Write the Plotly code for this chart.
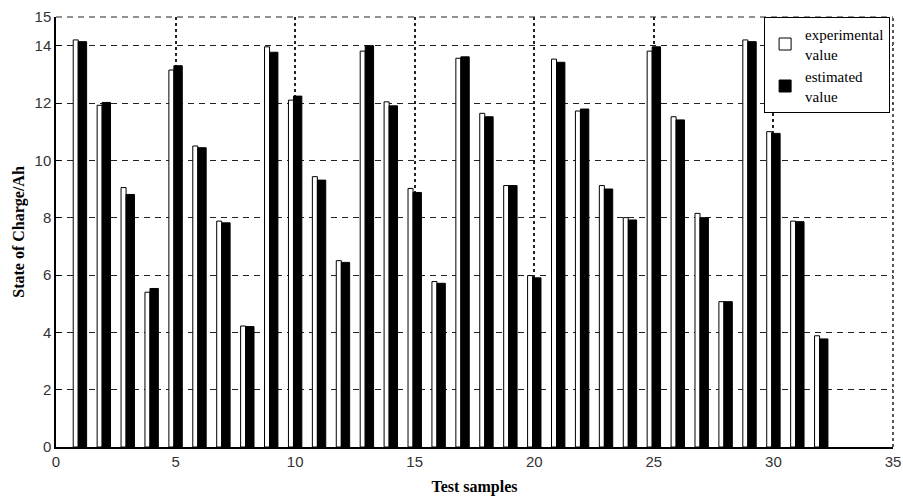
import plotly.graph_objects as go

samples = list(range(1, 33))
experimental = [14.2, 11.92, 9.05, 5.4, 13.15, 10.5, 7.88, 4.22, 13.96, 12.1,
                9.43, 6.5, 13.81, 12.04, 9.02, 5.77, 13.56, 11.64, 9.12, 5.98,
                13.53, 11.72, 9.12, 8.0, 13.81, 11.52, 8.15, 5.07, 14.2, 11.0,
                7.88, 3.88]
estimated = [14.14, 12.02, 8.81, 5.53, 13.3, 10.44, 7.82, 4.2, 13.77, 12.24,
             9.31, 6.44, 14.0, 11.9, 8.88, 5.71, 13.61, 11.52, 9.12, 5.9,
             13.42, 11.79, 9.0, 7.92, 13.96, 11.41, 8.0, 5.07, 14.14, 10.94,
             7.86, 3.77]
x_ticks = [0, 5, 10, 15, 20, 25, 30, 35]
y_ticks = [0, 2, 4, 6, 8, 10, 12, 14, 15]

GRID = "#222"
fig = go.Figure()
fig.add_trace(go.Bar(
    x=samples, y=experimental, name="experimental<br>value",
    width=0.21, offset=-0.28,
    marker=dict(color="white", line=dict(color="black", width=1)),
))
fig.add_trace(go.Bar(
    x=samples, y=estimated, name="estimated<br>value",
    width=0.35, offset=-0.07,
    marker=dict(color="black", line=dict(color="black", width=1)),
))

# edge grid lines (top dashed, right dotted) which plotly omits at the range boundary
fig.add_shape(type="line", xref="paper", yref="paper", x0=0, x1=1, y0=1, y1=1,
              line=dict(color=GRID, width=1.2, dash="6px,5px"), layer="below")
fig.add_shape(type="line", xref="paper", yref="paper", x0=1, x1=1, y0=0, y1=1,
              line=dict(color=GRID, width=1.5, dash="3px,3px"), layer="below")

fig.update_layout(
    width=903, height=499,
    margin=dict(l=56, r=10, t=17, b=52),
    paper_bgcolor="white", plot_bgcolor="white",
    barmode="overlay",
    showlegend=True,
    legend=dict(
        x=0.846, y=1.0, xanchor="left", yanchor="top",
        bgcolor="white", bordercolor="black", borderwidth=1,
        font=dict(family="Liberation Serif, Times New Roman, serif", size=15, color="black"),
        tracegroupgap=0, itemwidth=30,
    ),
    xaxis=dict(
        range=[0, 35], tickvals=x_ticks, ticktext=[str(v) for v in x_ticks],
        showgrid=True, gridcolor=GRID, gridwidth=1.5, griddash="3px,3px",
        showline=True, linecolor="black", linewidth=1.5,
        ticks="inside", ticklen=5, tickcolor="black",
        zeroline=False, automargin=False, ticklabeloverflow="allow",
        tickfont=dict(family="Liberation Sans, Arial, sans-serif", size=15, color="#333"),
        title=dict(text="<b>Test samples</b>", standoff=12,
                   font=dict(family="Liberation Serif, Times New Roman, serif", size=16, color="black")),
    ),
    yaxis=dict(
        range=[0, 15], tickvals=y_ticks, ticktext=[str(v) for v in y_ticks],
        showgrid=True, gridcolor=GRID, gridwidth=1.2, griddash="6px,5px",
        showline=True, linecolor="black", linewidth=1.5,
        ticks="inside", ticklen=5, tickcolor="black",
        zeroline=False, automargin=False,
        tickfont=dict(family="Liberation Sans, Arial, sans-serif", size=15, color="#333"),
        title=dict(text="<b>State of Charge/Ah</b>", standoff=6,
                   font=dict(family="Liberation Serif, Times New Roman, serif", size=16, color="black")),
    ),
)

fig.write_html("out.html",
               config={"displayModeBar": False},
               post_script="document.body.style.margin='0';document.body.style.overflow='hidden';")
